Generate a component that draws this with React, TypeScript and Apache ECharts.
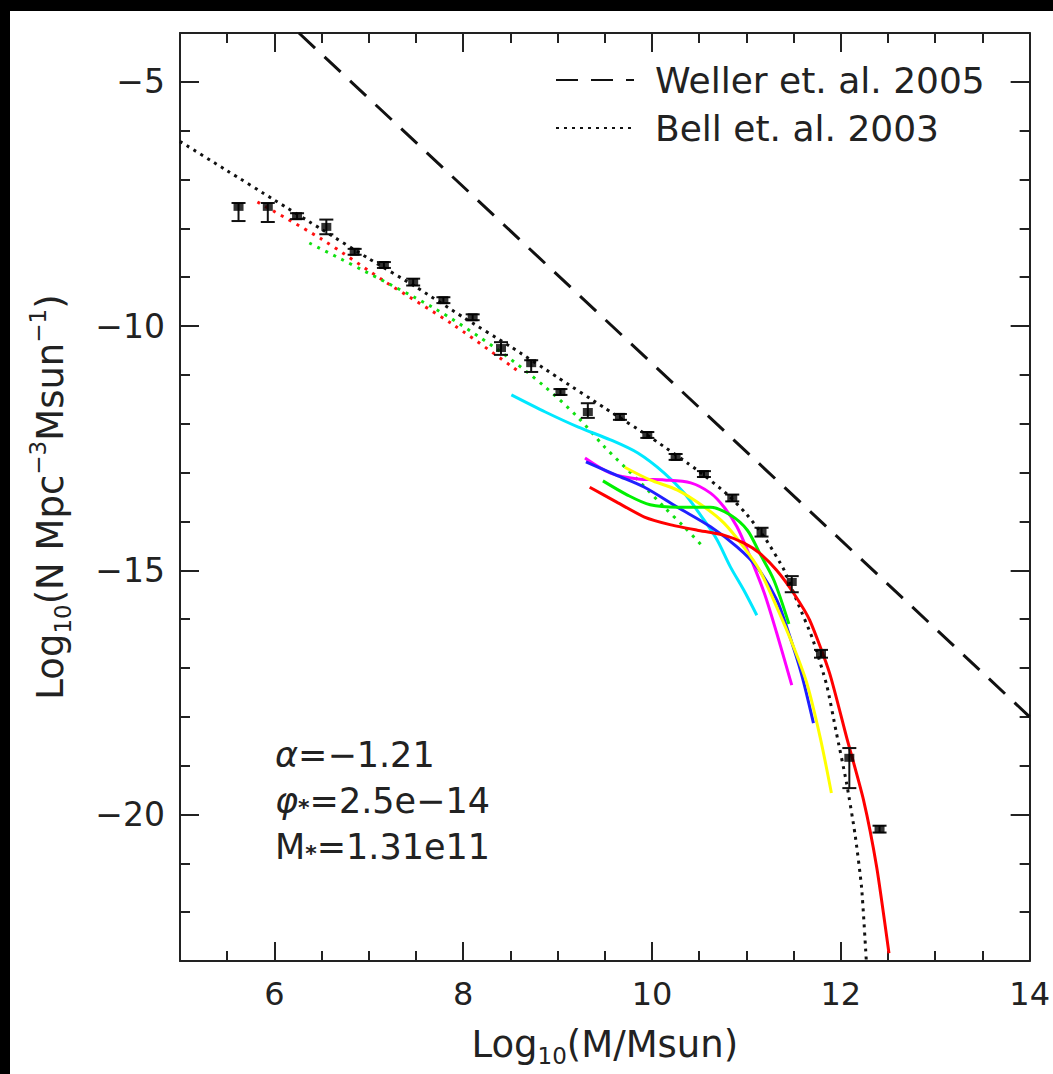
import React, { useEffect, useRef } from "react";
import * as echarts from "echarts";

// ---- data ----
const X_MAJOR = [6, 8, 10, 12, 14];
const Y_MAJOR = [-20, -15, -10, -5];

const MASS = [5.62, 5.93, 6.24, 6.55, 6.85, 7.16, 7.47, 7.79, 8.1, 8.4, 8.72, 9.03, 9.32, 9.66, 9.95, 10.25, 10.55, 10.85, 11.16, 11.48, 11.79, 12.09, 12.41];
const LOGN = [-7.56, -7.56, -7.75, -7.97, -8.48, -8.75, -9.1, -9.47, -9.82, -10.45, -10.76, -11.35, -11.76, -11.86, -12.23, -12.68, -13.03, -13.52, -14.22, -15.24, -16.71, -18.84, -20.3];
const ERR_HI = [-7.48, -7.48, -7.69, -7.82, -8.42, -8.69, -9.03, -9.41, -9.76, -10.33, -10.7, -11.29, -11.58, -11.8, -12.17, -12.62, -12.97, -13.45, -14.13, -15.12, -16.63, -18.64, -20.23];
const ERR_LO = [-7.85, -7.87, -7.81, -8.12, -8.54, -8.81, -9.17, -9.53, -9.88, -10.59, -10.94, -11.41, -11.88, -11.92, -12.29, -12.74, -13.09, -13.59, -14.31, -15.45, -16.79, -19.46, -20.37];

const WELLER = [[6.26, -4], [14, -18]];
const BELL = [[5.0, -6.22], [5.5, -6.82], [6.0, -7.42], [6.5, -8.02], [7.0, -8.62], [7.5, -9.2], [8.0, -9.82], [8.5, -10.42], [9.0, -11.05], [9.5, -11.68], [10.0, -12.3], [10.5, -12.98], [10.8, -13.45], [11.0, -13.85], [11.2, -14.35], [11.4, -15.0], [11.55, -15.7], [11.7, -16.4], [11.85, -17.35], [11.95, -18.3], [12.06, -19.35], [12.15, -20.4], [12.22, -21.5], [12.27, -23.0]];
const RED_DOT = [[5.82, -7.46], [6.5, -8.22], [7.18, -9.1], [7.9, -9.98], [8.6, -10.95]];
const GREEN_DOT = [[6.37, -8.3], [7.67, -9.61], [8.37, -10.49], [8.87, -11.25], [9.21, -11.86], [9.5, -12.48], [9.85, -13.15], [10.13, -13.71], [10.34, -14.11], [10.55, -14.54]];
const CYAN = [[8.51, -11.41], [8.87, -11.76], [9.22, -12.07], [9.56, -12.33], [9.85, -12.6], [10.13, -13.01], [10.34, -13.42], [10.55, -13.97], [10.69, -14.38], [10.83, -14.93], [10.97, -15.4], [11.11, -15.92]];
const MAGENTA = [[9.29, -12.7], [9.56, -13.01], [9.85, -13.13], [10.13, -13.15], [10.41, -13.21], [10.62, -13.42], [10.76, -13.7], [10.9, -14.11], [11.04, -14.73], [11.19, -15.47], [11.32, -16.28], [11.48, -17.35]];
const BLUE = [[9.3, -12.78], [9.62, -13.05], [9.92, -13.3], [10.27, -13.71], [10.62, -14.11], [10.9, -14.52], [11.11, -14.93], [11.32, -15.6], [11.45, -16.3], [11.58, -17.1], [11.71, -18.13]];
const YELLOW = [[9.71, -12.89], [9.98, -13.15], [10.27, -13.36], [10.55, -13.7], [10.76, -14.03], [10.97, -14.52], [11.14, -15.0], [11.32, -15.75], [11.5, -16.57], [11.64, -17.31], [11.78, -18.41], [11.9, -19.56]];
const GREEN = [[9.48, -13.17], [9.74, -13.46], [9.98, -13.66], [10.27, -13.71], [10.62, -13.71], [10.83, -13.87], [11.01, -14.18], [11.14, -14.65], [11.29, -15.2], [11.45, -16.1]];
const RED = [[9.34, -13.3], [9.64, -13.62], [9.92, -13.91], [10.2, -14.07], [10.48, -14.18], [10.76, -14.28], [10.97, -14.44], [11.14, -14.65], [11.32, -15.0], [11.5, -15.47], [11.67, -16.02], [11.88, -17.1], [12.06, -18.41], [12.24, -19.7], [12.38, -21.08], [12.51, -22.84]];

const LEGEND_NAMES = ["Weller et. al. 2005", "Bell et. al. 2003"];
const FIT_TEXT = ["{i|α}=−1.21", "{i|φ}{s|*}=2.5e−14", "M{s|*}=1.31e11"];

const FONT = "DejaVu Sans";
const INK = "#222";

function fmt(v: number) {
  return String(v).replace("-", "−");
}

export default function App() {
  const ref = useRef<HTMLDivElement>(null);
  useEffect(() => {
    if (!ref.current) return;
    const chart = echarts.init(ref.current, null, { renderer: "svg" });

    const axisLine = { show: true, lineStyle: { color: INK, width: 2 } };
    const majorX = (pos: string, labels: boolean) => ({
      type: "value", position: pos, min: 5, max: 14,
      axisLine,
      axisTick: { show: true, inside: true, length: 19, customValues: X_MAJOR, lineStyle: { color: INK, width: 2 } },
      axisLabel: labels ? { show: true, customValues: X_MAJOR, fontSize: 32, fontFamily: FONT, color: INK, margin: 17 } : { show: false },
      splitLine: { show: false },
    });
    const minorX = (pos: string) => ({
      type: "value", position: pos, min: 5, max: 14, interval: 0.5,
      axisLine: { show: false },
      axisTick: { show: true, inside: true, length: 10, lineStyle: { color: INK, width: 2 } },
      axisLabel: { show: false }, splitLine: { show: false },
    });
    const majorY = (pos: string, labels: boolean) => ({
      type: "value", position: pos, min: -23, max: -4,
      axisLine,
      axisTick: { show: true, inside: true, length: 19, customValues: Y_MAJOR, lineStyle: { color: INK, width: 2 } },
      axisLabel: labels ? { show: true, customValues: Y_MAJOR, fontSize: 33, fontFamily: FONT, color: INK, margin: 15, formatter: fmt } : { show: false },
      splitLine: { show: false },
    });
    const minorY = (pos: string) => ({
      type: "value", position: pos, min: -23, max: -4, interval: 1,
      axisLine: { show: false },
      axisTick: { show: true, inside: true, length: 10, lineStyle: { color: INK, width: 2 } },
      axisLabel: { show: false }, splitLine: { show: false },
    });

    const xMain: any = majorX("bottom", true);
    xMain.name = "Log{sub|10}(M/Msun)";
    xMain.nameLocation = "middle";
    xMain.nameGap = 60;
    xMain.nameTextStyle = {
      fontSize: 37, fontFamily: FONT, color: INK, lineHeight: 46,
      rich: {
        sub: { fontSize: 23, fontFamily: FONT, color: INK, verticalAlign: "bottom", lineHeight: 22 },
      },
    };
    const yMain: any = majorY("left", true);
    yMain.name = "Log{sub|10}(N Mpc{sup|−3}Msun{sup|−1})";
    yMain.nameLocation = "middle";
    yMain.nameGap = 106;
    yMain.nameRotate = 90;
    yMain.nameTextStyle = {
      fontSize: 37, fontFamily: FONT, color: INK, lineHeight: 48,
      rich: {
        sub: { fontSize: 23, fontFamily: FONT, color: INK, verticalAlign: "bottom", lineHeight: 22 },
        sup: { fontSize: 23, fontFamily: FONT, color: INK, verticalAlign: "top", lineHeight: 32 },
      },
    };

    const lineSeries = (name: string, data: number[][], color: string, type: any, width = 3, smooth: any = 0.3) => ({
      name, type: "line", data, symbol: "none", smooth, xAxisIndex: 0, yAxisIndex: 0,
      lineStyle: { color, width, type },
      itemStyle: { color },
      z: 3,
    });

    const errData = MASS.map((m, i) => [m, ERR_LO[i], ERR_HI[i]]);
    const ptData = MASS.map((m, i) => [m, LOGN[i]]);

    chart.setOption({
      animation: false,
      backgroundColor: "#fff",
      grid: { left: 180, top: 33, width: 850, height: 928, containLabel: false },
      xAxis: [xMain, minorX("bottom"), majorX("top", false), minorX("top")],
      yAxis: [yMain, minorY("left"), majorY("right", false), minorY("right")],
      legend: {
        data: LEGEND_NAMES,
        orient: "vertical",
        left: 550,
        top: 55,
        itemWidth: 78,
        itemHeight: 14,
        itemGap: 8,
        itemStyle: { opacity: 0 },
        textStyle: { fontSize: 36, fontFamily: FONT, color: INK, lineHeight: 40, padding: [0, 0, 0, 16] },
        selectedMode: false,
      },
      series: [
        lineSeries(LEGEND_NAMES[0], WELLER, "#111", [22, 13], 3, false),
        lineSeries(LEGEND_NAMES[1], BELL, "#111", [3, 5], 3, 0.2),
        lineSeries("red dotted", RED_DOT, "#ff1010", [3, 6], 3),
        lineSeries("green dotted", GREEN_DOT, "#10e010", [3, 6], 3),
        lineSeries("cyan", CYAN, "#00e8ff", "solid"),
        lineSeries("magenta", MAGENTA, "#ff00ff", "solid"),
        lineSeries("blue", BLUE, "#2020ff", "solid"),
        lineSeries("yellow", YELLOW, "#ffff00", "solid"),
        lineSeries("green", GREEN, "#00f000", "solid"),
        lineSeries("red", RED, "#ff0000", "solid", 3, 0.2),
        {
          name: "error",
          type: "custom",
          data: errData,
          encode: { x: 0, y: [1, 2] },
          z: 5,
          renderItem: (params: any, api: any) => {
            const x = api.value(0);
            const lo = api.coord([x, api.value(1)]);
            const hi = api.coord([x, api.value(2)]);
            const cap = 7;
            const style = { stroke: "#111", lineWidth: 2 };
            return {
              type: "group",
              children: [
                { type: "line", shape: { x1: lo[0], y1: lo[1], x2: hi[0], y2: hi[1] }, style },
                { type: "line", shape: { x1: lo[0] - cap, y1: lo[1], x2: lo[0] + cap, y2: lo[1] }, style },
                { type: "line", shape: { x1: hi[0] - cap, y1: hi[1], x2: hi[0] + cap, y2: hi[1] }, style },
              ],
            };
          },
        },
        {
          name: "data",
          type: "scatter",
          data: ptData,
          symbol: "rect",
          symbolSize: [10, 8],
          itemStyle: { color: "#000" },
          z: 6,
        },
      ],
      graphic: [
        { type: "rect", left: 0, top: 0, shape: { width: 1053, height: 11 }, style: { fill: "#000" }, z: 100 },
        { type: "rect", left: 0, top: 0, shape: { width: 10, height: 1074 }, style: { fill: "#000" }, z: 100 },
        ...FIT_TEXT.map((t, i) => ({
          type: "text",
          x: 275,
          y: 755 + i * 46,
          z: 50,
          style: {
            text: t,
            fill: INK,
            fontSize: 35,
            fontFamily: FONT,
            verticalAlign: "middle",
            rich: {
              i: { fontSize: 35, fontFamily: FONT, fontStyle: "italic", fill: INK },
              s: { fontSize: 22, fontFamily: FONT, fontWeight: "bold", fill: INK, verticalAlign: "bottom", lineHeight: 14 },
            },
          },
        })),
      ],
    });
    return () => chart.dispose();
  }, []);
  return (
    <div
      ref={ref}
      style={{ position: "absolute", left: 0, top: 0, width: 1053, height: 1074 }}
    />
  );
}
